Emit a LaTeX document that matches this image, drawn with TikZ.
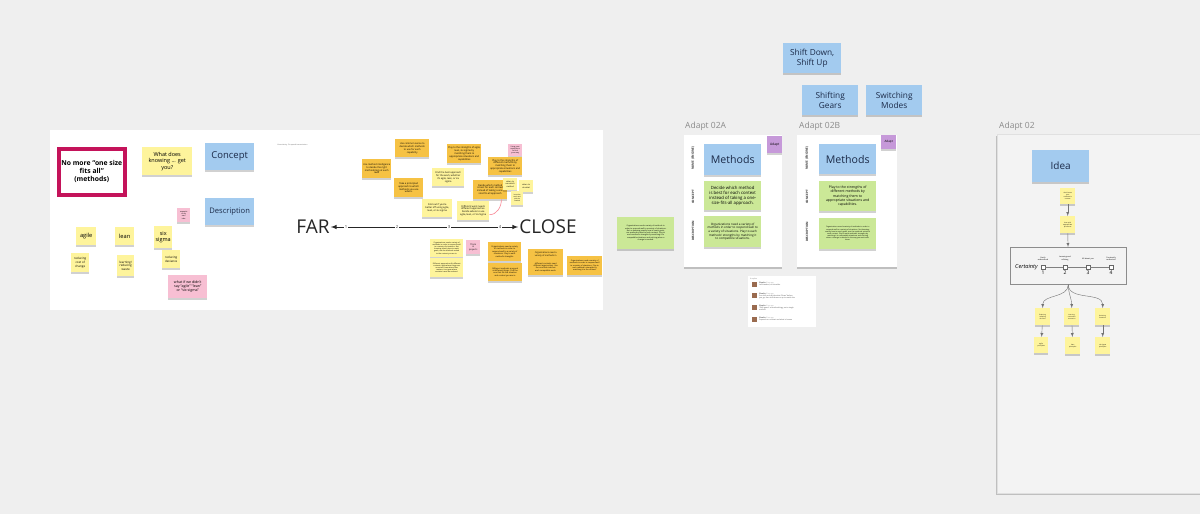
\documentclass[tikz,border=0pt]{standalone}
\usepackage{fontspec}
\setmainfont{Open Sans}
\usetikzlibrary{arrows}
\usetikzlibrary{shadows}
\usetikzlibrary{positioning}

\definecolor{canvas}{HTML}{EFEFEF}
\definecolor{stickyyel}{HTML}{FEF49C}
\definecolor{stickyora}{HTML}{F6C244}
\definecolor{stickyblue}{HTML}{A3CBEF}
\definecolor{stickypink}{HTML}{F7BFD3}
\definecolor{stickygreen}{HTML}{CBE897}
\definecolor{stickypurple}{HTML}{C699D9}
\definecolor{crimson}{HTML}{C4135A}
\definecolor{navytext}{HTML}{1B2A48}
\definecolor{labelgray}{HTML}{8A8A8A}
\definecolor{framefill}{HTML}{F3F3F3}
\definecolor{avatar}{HTML}{9A6B4F}

\newcommand\fs[1]{\fontsize{#1}{\dimexpr #1pt*6/5\relax}\selectfont}

\begin{document}
\begin{tikzpicture}[x=1pt,y=-1pt,>=latex,
  every node/.style={inner sep=1pt,align=center},
  sz/.style 2 args={minimum width=#1,minimum height=#2},
  sticky/.style={anchor=north west,drop shadow={shadow xshift=0pt,shadow yshift=-1.5pt,opacity=.18,fill=black}},
  yel/.style={sticky,fill=stickyyel},
  ora/.style={sticky,fill=stickyora},
  blu/.style={sticky,fill=stickyblue,text=navytext},
  pnk/.style={sticky,fill=stickypink},
  grn/.style={sticky,fill=stickygreen},
  prp/.style={sticky,fill=stickypurple},
  tiny/.style={font=\fs{2.4}},
  card/.style={anchor=north west,fill=white,drop shadow={shadow xshift=0pt,shadow yshift=-1.5pt,opacity=.2,fill=black}},
  framelabel/.style={anchor=base west,text=labelgray,font=\fs{8.5}},
  cardlabel/.style={rotate=90,font=\fs{3}\bfseries,text=black!80},
  axis/.style={line width=1pt,black!85},
  tree/.style={->,black!55,line width=.4pt},
  cbox/.style={draw=black!60,fill=white,minimum size=4,inner sep=0pt}]

  \fill[canvas] (0,0) rectangle (1200,514);
  \useasboundingbox (0,0) rectangle (1200,514);

  % left board
  \node[anchor=north west,fill=white,sz={553}{180}] (board) at (50,130) {};
  \node[anchor=north west,draw=crimson,line width=3.5pt,fill=white,sz={66}{46},font=\fs{6.8}\bfseries] (nomore) at (57,147) {No more “one size\\ fits all”\\ (methods)};
  \node[yel,sz={50}{28},font=\fs{5.5}] (whatdoes) at (142,147) {What does\\ knowing ... get\\ you?};
  \node[blu,sz={49}{27},font=\fs{9.5}] (concept) at (205,143) {Concept};
  \node[blu,sz={49}{27},font=\fs{7.6}] (descr) at (205,198) {Description};
  \node[pnk,sz={13}{14},font=\fs{1.8}] (myidea) at (177,208) {example\\ of my\\ own\\ idea};
  \node[yel,sz={20}{18},font=\fs{5.7}] (agile) at (76,227) {agile};
  \node[yel,sz={19}{18},font=\fs{5.7}] (lean) at (115,227) {lean};
  \node[yel,sz={18}{22},font=\fs{5.5}] (sixsig) at (154,226) {six\\ sigma};
  \node[yel,sz={18}{19},font=\fs{3}] (redcost) at (71,253) {reducing\\ cost of\\ change};
  \node[yel,sz={17}{21},font=\fs{3}] (learnwaste) at (117,255) {learning/\\ reducing\\ waste};
  \node[yel,sz={18}{18},font=\fs{3}] (reddev) at (162,250) {reducing\\ deviance};
  \node[pnk,sz={39}{23},font=\fs{3.6}] (whatif) at (168,275) {what if we didn't\\ say “agile” “lean”\\ or “six sigma”};
  \node[anchor=west,font=\fs{1.8},text=black!60] (uncert) at (276,145) {Uncertainty: Six-speed transmission};

  % far / close axis
  \node[font=\fs{19},text=black!85] (far) at (313,227) {FAR};
  \node[font=\fs{19},text=black!85] (close) at (548,227) {CLOSE};
  \node[font=\fs{4.2},text=black!80] (t1) at (346,227) {1};
  \node[font=\fs{4.2},text=black!80] (t2) at (397,227) {2};
  \node[font=\fs{4.2},text=black!80] (t3) at (449,227) {3};
  \node[font=\fs{4.2},text=black!80] (t4) at (500,227) {4};
  \draw[axis,->] (t1) -- (far);
  \draw[axis] (t1) -- (t2);
  \draw[axis] (t2) -- (t3);
  \draw[axis] (t3) -- (t4);
  \draw[axis,->] (t4) -- (close);

  % notes above the axis
  \node[ora,sz={34}{18},tiny] (commonsense) at (395,139) {Use common sense to\\ decide which methods\\ to use for each\\ capability};
  \node[ora,sz={25}{19},tiny] (methodintel) at (362,159) {Use method intelligence\\ to decide the right\\ methodology at each\\ level};
  \node[ora,sz={29}{19},tiny] (principled) at (394,178) {Take a principled\\ approach to which\\ methods you use\\ where.};
  \node[ora,sz={34}{19},tiny] (strengthsa) at (447,144) {Play to the strengths of agile,\\ lean, six sigma by\\ matching them to\\ appropriate situations and\\ capabilities};
  \node[pnk,sz={14}{12},font=\fs{1.8}] (experience) at (508,144) {Using your\\ experience\\ to find\\ your way};
  \node[ora,sz={34}{18},tiny] (strengthsb) at (488,157) {Play to the strengths of\\ different methods by\\ matching them to\\ appropriate situations and\\ capabilities};
  \node[yel,sz={32}{18},tiny] (bestfor) at (432,168) {Find the best approach\\ for the work, whether\\ it's agile, lean, or six\\ sigma};
  \node[ora,sz={34}{19},tiny] (decide) at (473,180) {Decide which method\\ is best for each context\\ instead of taking a one-\\ size-fits-all approach};
  \node[yel,sz={14}{12},font=\fs{2}] (whentouse) at (503,178) {when to\\ use which\\ method};
  \node[yel,sz={14}{12},font=\fs{2}] (whentodo) at (519,180) {when to\\ do what};
  \node[yel,sz={12}{14},font=\fs{1.6}] (small) at (511,191) {know the\\ work and\\ pick the\\ method};
  \node[yel,sz={30}{18},tiny] (findout) at (422,199) {Find out if you're\\ better off using agile,\\ lean, or six sigma};
  \node[yel,sz={32}{19},tiny] (diffwork) at (457,201) {Different work needs\\ different approaches.\\ Decide where to use\\ agile, lean, or Six Sigma};
  \draw[stickypink!70!red,line width=.6pt] ([yshift=-4]diffwork.east) to[out=0,in=-90] ([xshift=-6]decide.south east);

  % notes below the axis
  \node[yel,sz={33}{18},font=\fs{1.8}] (longa) at (430,239) {Organizations need a variety of\\ methods in order to respond well\\ to a variety of situations. Not\\ knowing exactly how to reach\\ goals, use the methods suited\\ to the context you are in.};
  \node[yel,sz={33}{19},font=\fs{1.8}] (longb) at (430,258) {Different approaches fit different\\ contexts: agile where things are\\ uncertain, lean where flow\\ matters, six sigma where\\ variation must be reduced.};
  \node[pnk,sz={14}{14},font=\fs{2.2}] (projects) at (466,240) {Think\\ in\\ projects};
  \node[ora,sz={33}{19},font=\fs{2}] (varietya) at (488,242) {Organizations need a variety\\ of methods in order to\\ respond well to a variety of\\ situations. Play to each\\ method's strengths.};
  \node[ora,sz={34}{18},font=\fs{2}] (goodat) at (488,263) {Different methods are good\\ at different things. Pick the\\ one that fits the situation\\ and context you are in.};
  \node[ora,sz={35}{10},font=\fs{2.2}] (varietyb) at (528,249) {Organizations need a\\ variety of methods in};
  \node[ora,sz={35}{16},font=\fs{2}] (contexts) at (528,259) {different contexts need\\ different approaches. Use\\ the one that matches\\ each compatible work.};
  \node[ora,sz={35}{19},font=\fs{1.9}] (matching) at (567,256) {Organizations need a variety of\\ methods in order to respond well\\ to a variety of situations. Play to\\ each method's strengths by\\ matching it to the context.};

  % adapt 02A
  \node[grn,sz={57}{32},font=\fs{1.9}] (greenleft) at (617,217) {Organizations need a variety of methods in\\ order to respond well to a variety of situations.\\ Not so knowing exactly how to reach goals,\\ use methods suited to each context. Play to\\ each method's strengths by matching it to\\ compatible situations and noticing when a\\ change is needed.};
  \node[framelabel] (lblA) at (684,128) {Adapt 02A};
  \node[card,sz={98}{132}] (cardA) at (684,135) {};
  \node[prp,sz={15}{17},font=\fs{3.3}] (tagA) at (767,136) {Adapt};
  \node[cardlabel] (nameA) at (693,158) {NAME (ENGINE)};
  \node[cardlabel] (conA) at (693,197) {CONCEPT};
  \node[cardlabel] (desA) at (693,231) {DESCRIPTION};
  \node[blu,sz={57}{31},font=\fs{10.6}] (methodsA) at (704,144) {Methods};
  \node[grn,sz={57}{29},font=\fs{4.3}] (conceptA) at (704,181) {Decide which method\\ is best for each context\\ instead of taking a one-\\ size-fits-all approach.};
  \node[grn,sz={57}{31},font=\fs{3}] (descA) at (704,216) {Organizations need a variety of\\ methods in order to respond well to\\ a variety of situations. Play to each\\ methods' strengths by matching it\\ to compatible situations.};

  % adapt 02B
  \node[framelabel] (lblB) at (798,128) {Adapt 02B};
  \node[card,sz={100}{132}] (cardB) at (797,135) {};
  \node[prp,sz={15}{14},font=\fs{3}] (tagB) at (881,135) {Adapt};
  \node[cardlabel] (nameB) at (807,158) {NAME (ENGINE)};
  \node[cardlabel] (conB) at (807,197) {CONCEPT};
  \node[cardlabel] (desB) at (807,232) {DESCRIPTION};
  \node[blu,sz={57}{30},font=\fs{10.6}] (methodsB) at (819,144) {Methods};
  \node[grn,sz={57}{30},font=\fs{3.5}] (conceptB) at (819,181) {Play to the strengths of\\ different methods by\\ matching them to\\ appropriate situations and\\ capabilities.};
  \node[grn,sz={57}{31},font=\fs{1.8}] (descB) at (819,218) {Organizations need a variety of methods in order to\\ respond well to a variety of situations. Not knowing\\ exactly how to reach goals, use the methods suited to\\ each context. Play to each method's strengths by\\ matching it to compatible situations and noticing\\ when a change is needed in the way you work with\\ them.};

  % comments
  \node[anchor=north west,fill=white,sz={68}{51}] (comments) at (748,276) {};
  \node[anchor=north west,font=\fs{1.8},text=black!50] (replies) at (749,277) {4 replies};
  \foreach \y/\txt in {282/{Left-handed, on shoulder},
                       293/{Pre-shift and decide what “flows” before\\ you go, then shift down or up to match the},
                       305/{“Shift gears” as methodology, not a single\\ method},
                       317/{Depends on context and what is known}} {
    \fill[avatar] (752,\y) rectangle ++(5,5);
    \node[anchor=north west,font=\fs{1.8},align=left,text=black!70] at (758,\y-1) {\textbf{Charlie} \textcolor{black!40}{2 hrs ago}\\ \txt};
  }

  % name ideas
  \node[blu,sz={58}{30},font=\fs{8.3}] (shiftdown) at (783,43) {Shift Down,\\ Shift Up};
  \node[blu,sz={56}{30},font=\fs{8.3}] (gears) at (802,85) {Shifting\\ Gears};
  \node[blu,sz={56}{30},font=\fs{8.3}] (modes) at (866,85) {Switching\\ Modes};

  % adapt 02
  \node[framelabel] (lbl02) at (998,128) {Adapt 02};
  \node[anchor=north west,fill=framefill,draw=black!12,sz={215}{359},drop shadow={shadow xshift=-1pt,shadow yshift=-1.5pt,opacity=.2,fill=black}] (frame02) at (997,134) {};
  \node[blu,sz={57}{32},font=\fs{10}] (idea) at (1032,150) {Idea};
  \node[yel,sz={15}{16},font=\fs{1.6}] (dontknow) at (1060,188) {don't know\\ your\\ customer's\\ context};
  \node[yel,sz={15}{17},font=\fs{1.6}] (thenpick) at (1060,216) {then pick\\ appropriate\\ processes};
  \node[anchor=north west,draw=black!45,fill=framefill,line width=.6pt,sz={116}{37}] (cert) at (1010,247) {};
  \node[cbox] (c1) at (1043,267) {};
  \node[cbox] (c2) at (1065,267) {};
  \node[cbox] (c3) at (1088,267) {};
  \node[cbox] (c4) at (1111,267) {};
  \draw[black!50,line width=.4pt] (c1) -- (c2) (c2) -- (c3) (c3) -- (c4);
  \node[left=2pt of c1,font=\fs{5.6}\itshape] (certlbl) {Certainty};
  \node[below=.3pt of c1,font=\fs{5}] (n1) {1};
  \node[below=.3pt of c2,font=\fs{5}] (n2) {2};
  \node[below=.3pt of c3,font=\fs{5}] (n3) {3};
  \node[below=.3pt of c4,font=\fs{5}] (n4) {4};
  \node[above=3pt of c1,font=\fs{1.9}] (h1) {Easily\\ understood};
  \node[above=3pt of c2,font=\fs{1.9}] (h2) {Learning and\\ refining};
  \node[above=3.6pt of c3,font=\fs{1.9}] (h3) {All about you};
  \node[above=3pt of c4,font=\fs{1.9}] (h4) {Constantly\\ redirected};
  \node[yel,sz={15}{17},font=\fs{1.5}] (explore) at (1035,308) {Exploring\\ sampling\\ direction};
  \node[yel,sz={15}{17},font=\fs{1.5}] (learning) at (1064,308) {Learning,\\ continuous\\ innovation};
  \node[yel,sz={15}{17},font=\fs{1.5}] (reducing) at (1095,308) {Reducing\\ Deviation};
  \node[yel,sz={14}{16},font=\fs{1.6}] (agilep) at (1034,337) {agile\\ principles};
  \node[yel,sz={15}{17},font=\fs{1.6}] (leanp) at (1065,337) {lean\\ principles};
  \node[yel,sz={15}{17},font=\fs{1.6}] (sixp) at (1095,337) {six sigma\\ principles};
  \draw[tree] (dontknow) -- (thenpick);
  \draw[tree] (thenpick) -- (cert);
  \draw[tree] (cert.south) to[out=-90,in=90] (explore.north);
  \draw[tree] (cert.south) to[out=-90,in=90] (learning.north);
  \draw[tree] (cert.south) to[out=-90,in=90] (reducing.north);
  \draw[tree] (explore) -- (agilep);
  \draw[tree] (learning) -- (leanp);
  \draw[tree] (reducing) -- (sixp);
\end{tikzpicture}
\end{document}
